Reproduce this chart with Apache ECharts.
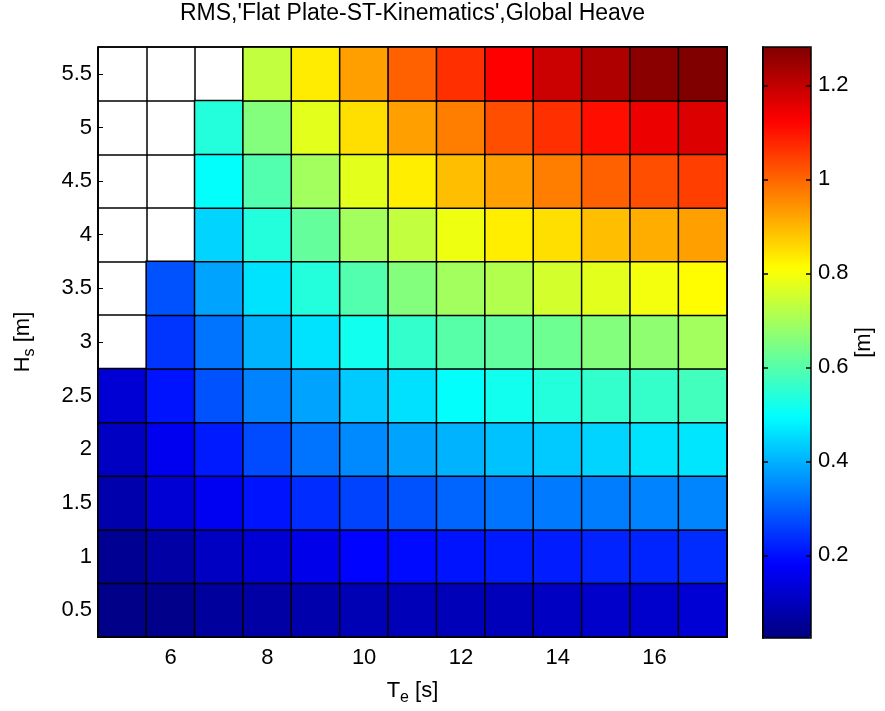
<!DOCTYPE html>
<html>
<head>
<meta charset="utf-8">
<script src="https://cdn.jsdelivr.net/npm/echarts@6/dist/echarts.min.js"></script>
<style>html,body{margin:0;padding:0;background:#fff;}#c{width:885px;height:711px;}</style>
</head>
<body>
<div id="c"></div>
<script>
// Categories
const teLabels = ['5','6','7','8','9','10','11','12','13','14','15','16','17'];
const hsLabels = ['0.5','1','1.5','2','2.5','3','3.5','4','4.5','5','5.5'];
const xTickLabels = ['6','8','10','12','14','16'];
const colorbarTicks = [0.2, 0.4, 0.6, 0.8, 1.0, 1.2];
const colorMin = 0.024;
const colorMax = 1.2815;

// RMS global heave [m], one array per Hs row, Te = 5..17 (null = no value)
const rmsHs05 = [0.035, 0.038, 0.059, 0.069, 0.078, 0.088, 0.094, 0.094, 0.097, 0.107, 0.116, 0.118, 0.128];
const rmsHs10 = [0.047, 0.069, 0.107, 0.128, 0.157, 0.185, 0.194, 0.204, 0.213, 0.216, 0.224, 0.226, 0.235];
const rmsHs15 = [0.078, 0.128, 0.166, 0.204, 0.235, 0.263, 0.282, 0.304, 0.323, 0.332, 0.335, 0.342, 0.345];
const rmsHs20 = [0.107, 0.163, 0.213, 0.273, 0.323, 0.351, 0.383, 0.401, 0.420, 0.430, 0.442, 0.461, 0.465];
const rmsHs25 = [0.128, 0.204, 0.282, 0.342, 0.383, 0.430, 0.458, 0.499, 0.517, 0.539, 0.558, 0.560, 0.577];
const rmsHs30 = [null, 0.245, 0.323, 0.401, 0.461, 0.517, 0.558, 0.602, 0.615, 0.630, 0.656, 0.671, 0.696];
const rmsHs35 = [null, 0.282, 0.383, 0.461, 0.539, 0.596, 0.656, 0.696, 0.715, 0.756, 0.775, 0.795, 0.812];
const rmsHs40 = [null, null, 0.442, 0.539, 0.618, 0.696, 0.734, 0.790, 0.831, 0.850, 0.891, 0.910, 0.928];
const rmsHs45 = [null, null, 0.499, 0.596, 0.696, 0.775, 0.831, 0.891, 0.928, 0.969, 1.007, 1.029, 1.048];
const rmsHs50 = [null, null, 0.539, 0.656, 0.775, 0.850, 0.928, 0.969, 1.029, 1.067, 1.107, 1.148, 1.167];
const rmsHs55 = [null, null, null, 0.734, 0.834, 0.928, 1.007, 1.067, 1.126, 1.189, 1.223, 1.269, 1.283];

const rows = [rmsHs05, rmsHs10, rmsHs15, rmsHs20, rmsHs25, rmsHs30, rmsHs35, rmsHs40, rmsHs45, rmsHs50, rmsHs55];
const data = [];
rows.forEach(function (row, yi) {
  row.forEach(function (v, xi) {
    if (v !== null) data.push([xi, yi, v]);
  });
});

const jet = ['#000080','#0000ff','#0080ff','#00ffff','#80ff80','#ffff00','#ff8000','#ff0000','#800000'];
const FONT = 'Liberation Sans, Arial, sans-serif';
const chart = echarts.init(document.getElementById('c'), null, {renderer: 'canvas'});

const subRich = {
  m: {fontSize: 22, fontFamily: FONT, color: '#000'},
  s: {fontSize: 16, fontFamily: FONT, color: '#000', padding: [14, 0, 0, 0]}
};

chart.setOption({
  animation: false,
  backgroundColor: '#fff',
  title: {
    text: "RMS,'Flat Plate-ST-Kinematics',Global Heave",
    left: 180,
    top: 2,
    padding: 0,
    textStyle: {fontSize: 23, fontWeight: 'normal', fontFamily: FONT, color: '#000'}
  },
  grid: [
    {left: 98, top: 47, width: 629, height: 591, show: true, borderColor: '#000', borderWidth: 1.5, backgroundColor: 'transparent', z: 10},
    {left: 763, top: 47, width: 48, height: 591, show: true, borderColor: '#000', borderWidth: 1.5, backgroundColor: 'transparent', z: 10, zlevel: 1},
    {left: 811, top: 47, width: 10, height: 591, show: false}
  ],
  xAxis: [
    {
      type: 'category', gridIndex: 0, data: teLabels, position: 'bottom',
      name: '{m|T}{s|e}{m| [s]}', nameLocation: 'middle', nameGap: 39,
      nameTextStyle: {rich: subRich},
      axisLine: {show: true, lineStyle: {color: '#000', width: 1.5}},
      axisTick: {show: true, inside: true, length: 5, alignWithLabel: true,
        interval: function (i) { return xTickLabels.indexOf(teLabels[i]) >= 0; }, lineStyle: {color: '#000'}},
      axisLabel: {interval: function (i) { return xTickLabels.indexOf(teLabels[i]) >= 0; },
        fontSize: 22, fontFamily: FONT, color: '#000', margin: 10},
      splitLine: {show: true, interval: 0, lineStyle: {color: '#000', width: 1.5}}
    },
    {type: 'value', gridIndex: 1, show: false, min: 0, max: 1},
    {type: 'value', gridIndex: 2, show: false, min: 0, max: 1}
  ],
  yAxis: [
    {
      type: 'category', gridIndex: 0, data: hsLabels, position: 'left',
      name: '{m|H}{s|s}{m| [m]}', nameLocation: 'middle', nameGap: 60, nameRotate: 90,
      nameTextStyle: {rich: subRich},
      axisLine: {show: true, lineStyle: {color: '#000', width: 1.5}},
      axisTick: {show: true, inside: true, length: 5, alignWithLabel: true, interval: 0, lineStyle: {color: '#000'}},
      axisLabel: {interval: 0, fontSize: 22, fontFamily: FONT, color: '#000', margin: 6},
      splitLine: {show: true, interval: 0, lineStyle: {color: '#000', width: 1.5}}
    },
    {
      // colorbar labels (right side)
      type: 'value', gridIndex: 1, position: 'right', min: colorMin, max: colorMax, z: 10, zlevel: 1,
      name: '[m]', nameLocation: 'middle', nameGap: 40, nameRotate: 90,
      nameTextStyle: {fontSize: 22, fontFamily: FONT, color: '#000'},
      axisLine: {show: true, lineStyle: {color: '#000', width: 1.5}},
      axisTick: {show: false},
      axisLabel: {show: true, customValues: colorbarTicks, fontSize: 22, fontFamily: FONT, color: '#000', margin: 7},
      splitLine: {show: false}
    },
    {
      // colorbar ticks, left edge (pointing into the bar)
      type: 'value', gridIndex: 1, position: 'left', min: colorMin, max: colorMax, z: 10, zlevel: 1,
      axisLine: {show: true, lineStyle: {color: '#000', width: 1.5}},
      axisTick: {show: true, inside: true, length: 5, customValues: colorbarTicks, lineStyle: {color: '#000', width: 1.5}},
      axisLabel: {show: false},
      splitLine: {show: false}
    },
    {
      // colorbar ticks, right edge (pointing into the bar)
      type: 'value', gridIndex: 2, position: 'left', min: colorMin, max: colorMax, z: 10, zlevel: 1,
      axisLine: {show: false},
      axisTick: {show: true, inside: false, length: 5, customValues: colorbarTicks, lineStyle: {color: '#000', width: 1.5}},
      axisLabel: {show: false},
      splitLine: {show: false}
    }
  ],
  visualMap: {
    type: 'continuous',
    seriesIndex: 0,
    min: colorMin, max: colorMax,
    calculable: false, hoverLink: false,
    orient: 'vertical',
    left: 763, top: 47,
    itemWidth: 48, itemHeight: 591,
    padding: 0,
    text: null,
    showLabel: false,
    z: 1,
    inRange: {color: jet}
  },
  series: [{
    type: 'heatmap',
    xAxisIndex: 0, yAxisIndex: 0,
    data: data,
    z: 2,
    itemStyle: {borderColor: '#000', borderWidth: 1.5},
    emphasis: {disabled: true},
    label: {show: false}
  }]
});
</script>
</body>
</html>
